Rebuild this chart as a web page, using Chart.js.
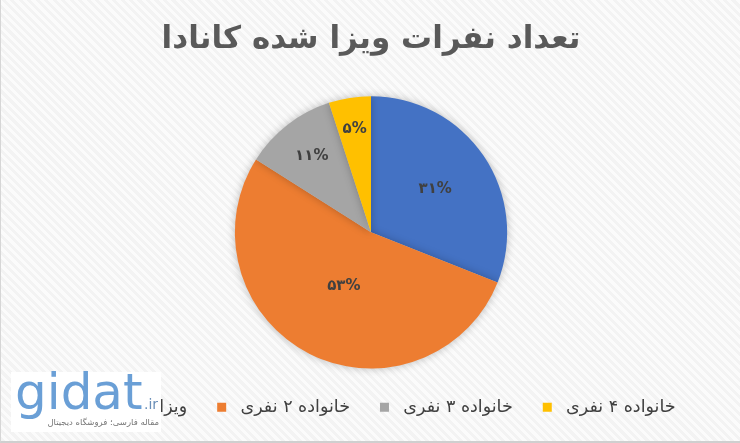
<!DOCTYPE html>
<html lang="fa">
<head>
<meta charset="utf-8">
<script src="https://cdn.jsdelivr.net/npm/chart.js@4.4.1/dist/chart.umd.min.js"></script>
<style>
  html, body { margin: 0; padding: 0; }
  body { width: 740px; height: 443px; overflow: hidden; }
  #wrap {
    position: relative; width: 740px; height: 443px; box-sizing: border-box;
    border-left: 1px solid #d6d6d6; border-bottom: 2px solid #cfcfcf;
    background-color: #f5f5f5;
    background-image: repeating-linear-gradient(45deg, #f3f3f3 0px, #f3f3f3 3px, #fbfbfb 3px, #fbfbfb 6px);
  }
  #c { position: absolute; left: 0; top: 0; }
  #wm {
    position: absolute; left: 10px; top: 372px; width: 150px; height: 60px;
    background: #ffffff; font-family: "DejaVu Sans", sans-serif;
  }
  #wm .logo { position: absolute; left: 4px; top: -9px; font-family: "DejaVu Sans", sans-serif; font-size: 50px; color: #6a9fd6; }
  #wm .ir { position: absolute; left: 133px; top: 24px; font-size: 14px; color: #6a8fb8; }
  #wm .sub { position: absolute; right: 2px; top: 45px; font-size: 8.5px; color: #777; direction: rtl; white-space: nowrap; }
</style>
</head>
<body>
<div id="wrap">
  <canvas id="c" width="740" height="443"></canvas>
  <div id="wm"><span class="logo">gidat</span><span class="ir">.ir</span><span class="sub">مقاله فارسی؛ فروشگاه دیجیتال</span></div>
</div>
<script>
const titleText = "تعداد نفرات ویزا شده کانادا";
const categories = ["ویزا تک نفرها", "خانواده ۲ نفری", "خانواده ۳ نفری", "خانواده ۴ نفری"];
const values = [31, 53, 11, 5];
const valueLabels = ["۳۱%", "۵۳%", "۱۱%", "۵%"];
const colors = ["#4472C4", "#ED7D31", "#A5A5A5", "#FFC000"];

const labelRadius = [0.57, 0.44, 0.71, 0.77];

const sliceLabels = {
  id: "sliceLabels",
  afterDatasetsDraw(chart) {
    const ctx = chart.ctx;
    const meta = chart.getDatasetMeta(0);
    ctx.save();
    ctx.font = "bold 15px 'DejaVu Sans', sans-serif";
    ctx.fillStyle = "#404040";
    ctx.textAlign = "center";
    ctx.textBaseline = "middle";
    meta.data.forEach((arc, i) => {
      const p = arc.getProps(["x", "y", "startAngle", "endAngle", "outerRadius"], true);
      const mid = (p.startAngle + p.endAngle) / 2;
      const r = p.outerRadius * labelRadius[i];
      ctx.fillText(valueLabels[i], p.x + Math.cos(mid) * r, p.y + Math.sin(mid) * r);
    });
    ctx.restore();
  }
};

const pieShadow = {
  id: "pieShadow",
  beforeDatasetsDraw(chart) {
    const ctx = chart.ctx;
    ctx.save();
    ctx.shadowColor = "rgba(0,0,0,0.25)";
    ctx.shadowBlur = 8;
  },
  afterDatasetsDraw(chart) {
    chart.ctx.restore();
  }
};

new Chart(document.getElementById("c"), {
  type: "pie",
  data: {
    labels: categories,
    datasets: [{ data: values, backgroundColor: colors, borderWidth: 0 }]
  },
  options: {
    responsive: false,
    animation: false,
    layout: { padding: { top: 0, bottom: 17, left: 0, right: 0 } },
    plugins: {
      title: {
        display: true, text: titleText, color: "#595959",
        font: { family: "'DejaVu Sans', sans-serif", size: 31, weight: "bold" },
        padding: { top: 21, bottom: 38 }
      },
      legend: {
        position: "bottom",
        labels: {
          color: "#404040", boxWidth: 9, boxHeight: 9, padding: 30,
          font: { family: "'DejaVu Sans', sans-serif", size: 17.5 },
          generateLabels(chart) {
            const ds = chart.data.datasets[0];
            return chart.data.labels.map((lab, i) => ({
              text: " " + lab,
              fillStyle: ds.backgroundColor[i],
              strokeStyle: ds.backgroundColor[i],
              lineWidth: 0,
              fontColor: "#404040",
              hidden: false,
              index: i
            }));
          }
        }
      },
      tooltip: { enabled: false }
    }
  },
  plugins: [pieShadow, sliceLabels]
});
</script>
</body>
</html>
